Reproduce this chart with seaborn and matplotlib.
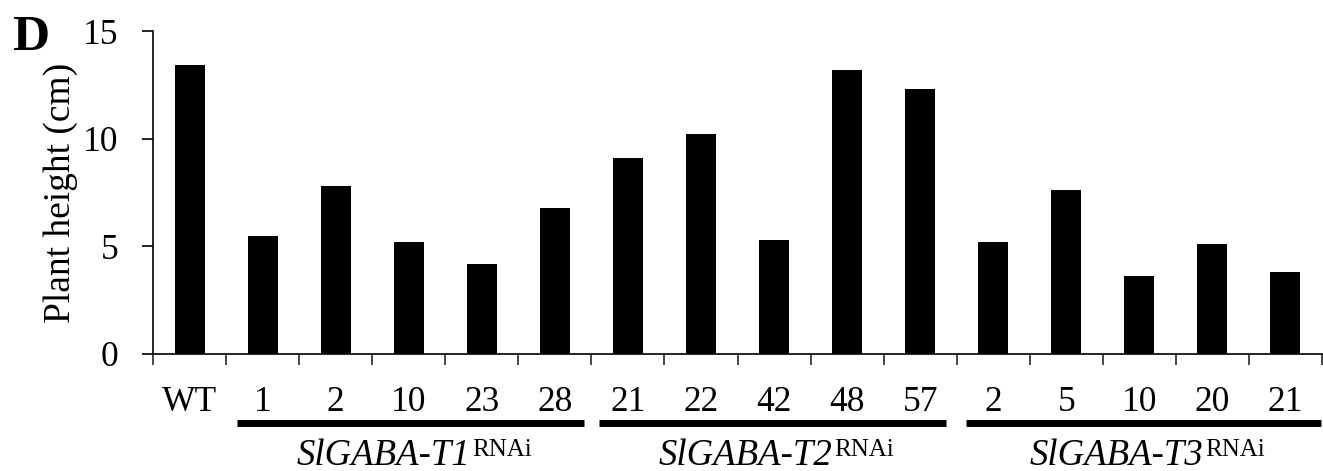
import matplotlib
matplotlib.use("Agg")
import matplotlib.pyplot as plt
import matplotlib.transforms as mtransforms
from matplotlib.offsetbox import TextArea, HPacker, AnnotationBbox
import seaborn as sns
import pandas as pd
import numpy as np

# ---- data ----
line_ids = ["WT",
            "T1-1", "T1-2", "T1-10", "T1-23", "T1-28",
            "T2-21", "T2-22", "T2-42", "T2-48", "T2-57",
            "T3-2", "T3-5", "T3-10", "T3-20", "T3-21"]
tick_labels = ["WT", "1", "2", "10", "23", "28",
               "21", "22", "42", "48", "57",
               "2", "5", "10", "20", "21"]
heights = [13.4, 5.5, 7.8, 5.2, 4.2, 6.8,
           9.1, 10.2, 5.3, 13.2, 12.3,
           5.2, 7.6, 3.6, 5.1, 3.8]
group_names = ["SlGABA-T1", "SlGABA-T2", "SlGABA-T3"]
group_super = "RNAi"
ylabel = "Plant height (cm)"
panel_letter = "D"

df = pd.DataFrame({"line": line_ids, "height": heights})

sns.set_theme(style="ticks")
plt.rcParams["font.family"] = ["Liberation Serif", "DejaVu Serif"]

fig = plt.figure(figsize=(13.23, 4.71), dpi=100)
ax = fig.add_axes([153/1323, 1 - 354/471, 1169/1323, 323/471])

sns.barplot(data=df, x="line", y="height", order=line_ids, color="black",
            saturation=1, width=0.41, edgecolor="none", ax=ax)

n = len(line_ids)
ax.set_xlim(-0.5, n - 0.5)
ax.set_ylim(0, 15)
ax.set_yticks([0, 5, 10, 15])
ax.tick_params(axis="y", direction="out", length=8, width=1.2, pad=17,
               labelsize=25.5, colors="black")
ax.set_yticklabels(["0", "5", "10", "15"])

# major ticks at category boundaries, labels as minor ticks at centres
ax.set_xticks(np.arange(-0.5, n, 1.0))
ax.set_xticklabels([])
ax.set_xticks(np.arange(n), minor=True)
ax.set_xticklabels(tick_labels, minor=True)
ax.tick_params(axis="x", which="major", direction="out", length=8, width=1.2)
ax.tick_params(axis="x", which="minor", length=0, pad=23, labelsize=25.5,
               colors="black")
ax.set_xlabel("")

ax.set_ylabel(ylabel, fontsize=27, color="black")
ax.yaxis.set_label_coords(-0.064, 0.5)

for s in ["top", "right"]:
    ax.spines[s].set_visible(False)
for s in ["left", "bottom"]:
    ax.spines[s].set_linewidth(1.2)
    ax.spines[s].set_color("black")

# group underlines and labels
spans = [(0.65, 5.40), (5.60, 10.36), (10.63, 15.49)]
trans = mtransforms.blended_transform_factory(ax.transData, fig.transFigure)
line_y = 1 - 423/471
label_y = 1 - 456/471
for (x0, x1), name in zip(spans, group_names):
    ax.plot([x0, x1], [line_y, line_y], color="black", lw=5,
            solid_capstyle="butt", transform=trans, clip_on=False)
    t1 = TextArea(name, textprops=dict(fontsize=26.5, fontstyle="italic",
                                       color="black",
                                       family="Liberation Serif"))
    t2 = TextArea(group_super, textprops=dict(fontsize=18, color="black",
                                              family="Liberation Serif"))
    pack = HPacker(children=[t1, t2], align="top", pad=0, sep=1)
    ab = AnnotationBbox(pack, ((x0 + x1) / 2 + 0.05, label_y),
                        xycoords=trans, box_alignment=(0.5, 0.5),
                        frameon=False, pad=0, annotation_clip=False)
    ax.add_artist(ab)

fig.text(12/1323, 1 - 50/471, panel_letter, fontsize=37,
         fontweight="bold", va="baseline", ha="left", color="black")

fig.savefig("out.png", dpi=100, facecolor="white")
